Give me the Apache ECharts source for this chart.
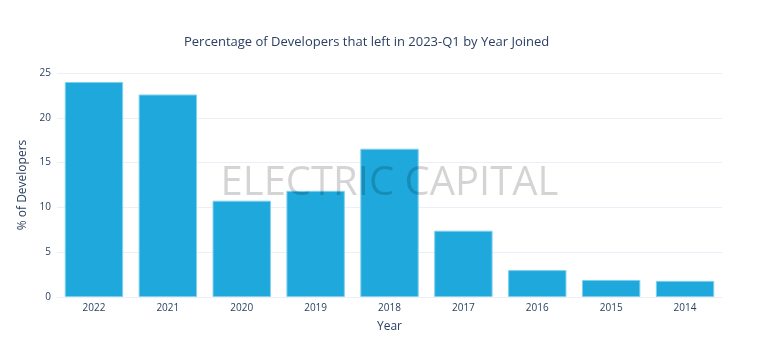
<!DOCTYPE html>
<html>
<head>
<meta charset="utf-8">
<script src="https://cdn.jsdelivr.net/npm/echarts@6/dist/echarts.min.js"></script>
<style>
  html, body { margin: 0; padding: 0; background: #fff; }
  #chart { width: 779px; height: 354px; }
</style>
</head>
<body>
<div id="chart"></div>
<script>
const years = ['2022', '2021', '2020', '2019', '2018', '2017', '2016', '2015', '2014'];
const pctLeft = [24.0, 22.6, 10.75, 11.85, 16.55, 7.4, 3.0, 1.9, 1.8];
const yTicks = [0, 5, 10, 15, 20, 25];

const textColor = '#2a3f5f';
const font = '"Open Sans", Verdana, sans-serif';

const chart = echarts.init(document.getElementById('chart'));
chart.setOption({
  animation: false,
  title: [{
    text: 'Percentage of Developers that left in 2023-Q1 by Year Joined',
    left: 179,
    top: 31,
    textStyle: { color: textColor, fontSize: 13, fontWeight: 'normal', fontFamily: font }
  }, {
    // watermark, drawn over the bars
    text: 'ELECTRIC CAPITAL',
    left: 'center',
    top: 159,
    z: 20,
    textStyle: { color: 'rgba(0,0,0,0.17)', fontSize: 40, fontWeight: 'normal', fontFamily: font }
  }],
  grid: { left: 57, right: 57, top: 73, bottom: 57 },
  xAxis: {
    type: 'category',
    data: years,
    name: 'Year',
    nameLocation: 'middle',
    nameGap: 24,
    nameTextStyle: { color: textColor, fontSize: 12, fontFamily: font },
    axisLine: { lineStyle: { color: '#ebf0f8' } },
    axisTick: { show: false },
    axisLabel: { color: textColor, fontSize: 10, fontFamily: font, margin: 6 }
  },
  yAxis: {
    type: 'value',
    min: yTicks[0],
    max: yTicks[yTicks.length - 1],
    interval: 5,
    name: '% of Developers',
    nameLocation: 'middle',
    nameGap: 28,
    nameTextStyle: { color: textColor, fontSize: 12, fontFamily: font },
    axisLine: { show: false },
    axisTick: { show: false },
    axisLabel: { color: textColor, fontSize: 10, fontFamily: font, margin: 6 },
    splitLine: { lineStyle: { color: '#ebf0f8', width: 1 } }
  },
  series: [{
    type: 'bar',
    data: pctLeft,
    barCategoryGap: '21%',
    z: 3,
    itemStyle: { color: '#1ea8dc', borderColor: '#7fd0ee', borderWidth: 1 }
  }]
});
</script>
</body>
</html>
